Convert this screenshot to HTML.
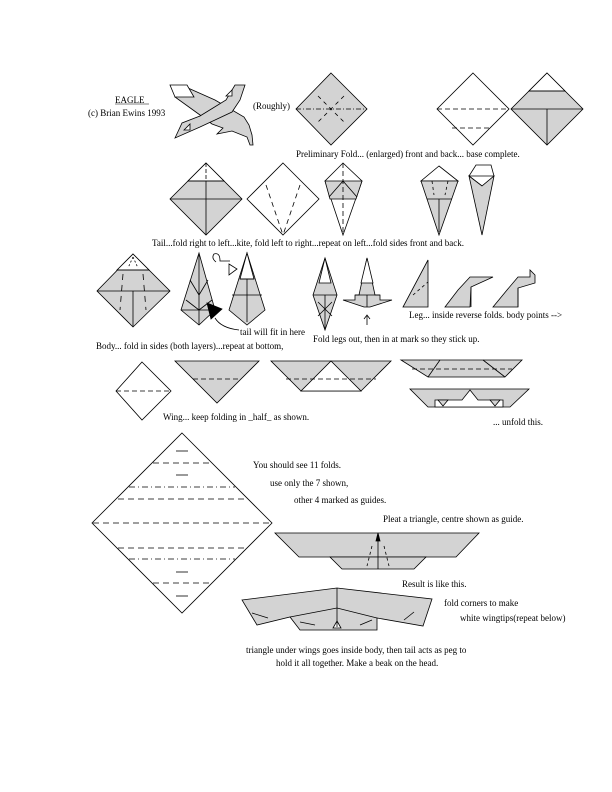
<!DOCTYPE html>
<html><head><meta charset="utf-8"><style>
html,body{margin:0;padding:0;background:#fff;width:612px;height:792px;overflow:hidden}
svg{display:block}
text{font-family:"Liberation Serif",serif;font-size:9px;fill:#000;stroke:none}
</style></head><body>
<svg width="612" height="792" viewBox="0 0 612 792" xmlns="http://www.w3.org/2000/svg" stroke="#000" stroke-width="0.8">
<g fill="#d3d3d3">
<!-- eagle -->
<polygon points="188,88 215,100 244,117 249,125 252,135 253,145 250,145 247,137 232,131 217,134 223,128 212,124 200,115 175,97"/>
<polygon points="175,138 182,123 200,116 213,108 226,100 235,85 245,85 240,100 232,112 215,120 200,127"/>
<polygon fill="#fff" points="170,85 187,85 194,97 175,97"/>
<polygon fill="#fff" points="184,130 190,124 190,130"/>
<polygon fill="#fff" points="226,96 232,90 232,96"/>
<!-- row1 diamonds -->
<polygon points="331,73 367,109 331,145 296,109"/>
<polygon fill="#fff" points="473,73 509,109 473,145 437,109"/>
<polygon points="547,73 583,109 547,145 511,109"/>
<polygon fill="#fff" points="547,73 565,91 529,91"/>
<!-- row2 -->
<polygon points="206,163 242,199 206,235 170,199"/>
<polygon fill="#fff" points="206,163 224,181 188,181"/>
<polygon fill="#fff" points="283,163 319,199 283,235 247,199"/>
<polygon fill="#fff" points="343,163 362,181 343,235 325,181"/>
<polygon points="325,181 362,181 356,199 343,199 330,199"/>
<polygon fill="#fff" points="439,166 458,181 421,181"/>
<polygon points="421,181 458,181 439,235"/>
<polygon fill="#fff" points="476,165 491,165 494,176 482,186 469,176"/>
<polygon points="482,186 494,176 482,235 469,176"/>
<!-- row3 -->
<polygon points="133,254 170,291 133,327 97,291"/>
<polygon fill="#fff" points="133,254 149,270 117,270"/>
<polygon points="199,253 215,310 199,325 181,310"/>
<polygon points="247,253 265,310 247,325 229,310"/>
<polygon fill="#fff" points="247,253 254,279 240,279"/>
<polygon points="325,258 337,295 325,330 313,295"/>
<polygon fill="#fff" points="325,258 331,283 319,283"/>
<polygon points="367,258 375,295 380,295 380,300 392,300 370,307 364,307 343,300 355,300 355,295 359,295"/>
<polygon fill="#fff" points="367,258 373,283 361,283"/>
<polygon points="428,260 428,307 403,307"/>
<polygon points="445,307 458,290 470,277 493,277 471,287 470,307"/>
<polygon points="493,307 507,290 518,277 530,277 530,270 535,275 535,283 518,288 518,307"/>
<!-- row4 -->
<polygon fill="#fff" points="142,362 171,391 142,420 116,391"/>
<polygon points="175,361 259,361 217,403"/>
<polygon points="271,361 391,361 361,391 301,391"/>
<polygon fill="#fff" points="331,361 361,391 301,391"/>
<polygon points="401,360 522,360 505,377 428,377"/>
<polygon points="410,389 529,389 510,407 428,407"/>
<polygon fill="#fff" points="435,400 462,400 470,390 478,400 503,400 503,407 435,407"/>
<polygon points="438,400 448,400 443,406"/>
<polygon points="490,400 500,400 495,406"/>
<!-- big diamond -->
<polygon fill="#fff" points="182,433 272,523 182,613 92,523"/>
<!-- pleat -->
<polygon points="275,533 479,533 456,557 299,557"/>
<polygon points="330,557 426,557 414,569 342,569"/>
<!-- result -->
<polygon points="242,600 337,588 432,599 423,626 377,618 377,630 300,630 290,617 257,625"/>
<polygon fill="#fff" points="337,621 341,628 333,628"/>
</g>
<g fill="none">
<!-- row1 details -->
<line x1="296" y1="109" x2="367" y2="109" stroke-dasharray="5,2,1,2"/>
<line x1="318" y1="96" x2="344" y2="122" stroke-dasharray="4,4"/>
<line x1="344" y1="96" x2="318" y2="122" stroke-dasharray="4,4"/>
<line x1="437" y1="109" x2="509" y2="109" stroke-dasharray="5,3"/>
<line x1="452" y1="128" x2="489" y2="128" stroke-dasharray="5,3"/>
<line x1="529" y1="91" x2="565" y2="91"/>
<line x1="511" y1="109" x2="583" y2="109"/>
<line x1="547" y1="109" x2="547" y2="145"/>
<!-- row2 -->
<line x1="188" y1="181" x2="224" y2="181"/>
<line x1="170" y1="199" x2="242" y2="199"/>
<line x1="206" y1="163" x2="206" y2="181" stroke-dasharray="4,2"/>
<line x1="206" y1="181" x2="206" y2="235"/>
<line x1="266" y1="185" x2="283" y2="235" stroke-dasharray="5,4"/>
<line x1="300" y1="185" x2="283" y2="235" stroke-dasharray="5,4"/>
<line x1="343" y1="163" x2="343" y2="235" stroke-dasharray="5,3"/>
<line x1="329" y1="197" x2="343" y2="181"/><line x1="357" y1="197" x2="343" y2="181"/>
<line x1="432" y1="181" x2="434" y2="195" stroke-dasharray="3,3"/>
<line x1="448" y1="181" x2="445" y2="195" stroke-dasharray="3,3"/>
<line x1="427" y1="199" x2="452" y2="199"/>
<line x1="439" y1="199" x2="439" y2="232"/>
<line x1="469" y1="176" x2="494" y2="176"/>
<!-- row3 -->
<line x1="117" y1="270" x2="149" y2="270"/>
<line x1="97" y1="291" x2="170" y2="291"/>
<line x1="133" y1="291" x2="133" y2="327"/>
<line x1="133" y1="257" x2="128" y2="268" stroke-dasharray="2,2"/><line x1="133" y1="257" x2="138" y2="268" stroke-dasharray="2,2"/>
<line x1="123" y1="274" x2="120" y2="310" stroke-dasharray="6,5"/><line x1="143" y1="274" x2="146" y2="310" stroke-dasharray="6,5"/>
<line x1="199" y1="253" x2="199" y2="325"/>
<line x1="181" y1="310" x2="215" y2="310"/>
<line x1="190" y1="280" x2="199" y2="295"/><line x1="208" y1="280" x2="199" y2="295"/>
<line x1="186" y1="300" x2="199" y2="310"/><line x1="212" y1="300" x2="199" y2="310"/>
<line x1="240" y1="279" x2="254" y2="279"/>
<line x1="232" y1="295" x2="262" y2="295"/>
<line x1="247" y1="279" x2="247" y2="322"/>
<path d="M216,262 q-5,-4 -2,-8 q6,-2 6,7 l10,0"/>
<polygon points="229,264 237,269 229,275" fill="#fff"/>
<path d="M215,318 q6,10 24,12"/>
<line x1="313" y1="295" x2="337" y2="295"/>
<line x1="325" y1="295" x2="325" y2="330"/>
<line x1="318" y1="302" x2="332" y2="316"/><line x1="332" y1="302" x2="318" y2="316"/>
<line x1="355" y1="295" x2="380" y2="295"/>
<line x1="367" y1="295" x2="367" y2="307"/>
<line x1="367" y1="316" x2="367" y2="325"/>
<polyline points="364,319 367,315 370,319"/>
<line x1="413" y1="295" x2="428" y2="282" stroke-dasharray="3,3"/>
<line x1="471" y1="287" x2="471" y2="307"/>
<line x1="518" y1="288" x2="518" y2="307"/>
<!-- row4 -->
<line x1="116" y1="391" x2="171" y2="391" stroke-dasharray="5,3"/>
<line x1="193" y1="379" x2="241" y2="379" stroke-dasharray="5,3"/>
<line x1="286" y1="379" x2="376" y2="379" stroke-dasharray="5,3"/>
<line x1="412" y1="369" x2="512" y2="369" stroke-dasharray="5,3"/>
<line x1="440" y1="360" x2="428" y2="377"/>
<line x1="483" y1="360" x2="505" y2="377"/>
<!-- big diamond folds -->
<g stroke-dasharray="6,4">
<line x1="153" y1="463" x2="211" y2="463"/>
<line x1="118" y1="499" x2="246" y2="499"/>
<line x1="93" y1="523" x2="271" y2="523"/>
<line x1="118" y1="548" x2="246" y2="548"/>
<line x1="153" y1="583" x2="211" y2="583"/>
</g>
<g stroke-dasharray="6,3,1,3">
<line x1="129" y1="487" x2="235" y2="487"/>
<line x1="129" y1="559" x2="235" y2="559"/>
</g>
<line x1="176" y1="451" x2="188" y2="451"/>
<line x1="176" y1="475" x2="188" y2="475"/>
<line x1="176" y1="572" x2="188" y2="572"/>
<line x1="176" y1="596" x2="188" y2="596"/>
<!-- pleat -->
<line x1="378" y1="537" x2="378" y2="569"/>
<polygon points="378,533 380,541 376,541" fill="#000"/>
<line x1="372" y1="546" x2="367" y2="566" stroke-dasharray="3,3"/>
<line x1="384" y1="546" x2="389" y2="566" stroke-dasharray="3,3"/>
<!-- result -->
<line x1="337" y1="588" x2="337" y2="627"/>
<polyline points="290,617 337,608 377,618"/>
<line x1="252" y1="613" x2="268" y2="618"/><line x1="404" y1="620" x2="414" y2="612"/>
<line x1="300" y1="622" x2="315" y2="625"/><line x1="360" y1="625" x2="372" y2="620"/>
</g>
<!-- black triangle -->
<polygon points="207,303 222,309 211,319" fill="#000"/>
<!-- text -->
<text x="115" y="103">EAGLE</text>
<line x1="115" y1="104" x2="149" y2="104" stroke-width="0.6"/>
<text x="88" y="116">(c) Brian Ewins 1993</text>
<text x="253" y="109">(Roughly)</text>
<text x="296" y="157">Preliminary Fold... (enlarged) front and back... base complete.</text>
<text x="152" y="246">Tail...fold right to left...kite, fold left to right...repeat on left...fold sides front and back.</text>
<text x="240" y="335">tail will fit in here</text>
<text x="96" y="349">Body... fold in sides (both layers)...repeat at bottom,</text>
<text x="313" y="342">Fold legs out, then in at mark so they stick up.</text>
<text x="409" y="318">Leg... inside reverse folds. body points --&gt;</text>
<text x="163" y="420">Wing... keep folding in _half_ as shown.</text>
<text x="493" y="425">... unfold this.</text>
<text x="253" y="468">You should see 11 folds.</text>
<text x="270" y="486">use only the 7 shown,</text>
<text x="294" y="503">other 4 marked as guides.</text>
<text x="383" y="522">Pleat a triangle, centre shown as guide.</text>
<text x="402" y="587">Result is like this.</text>
<text x="444" y="606">fold corners to make</text>
<text x="460" y="621">white wingtips(repeat below)</text>
<text x="246" y="653">triangle under wings goes inside body, then tail acts as peg to</text>
<text x="276" y="666">hold it all together. Make a beak on the head.</text>
</svg>
</body></html>
